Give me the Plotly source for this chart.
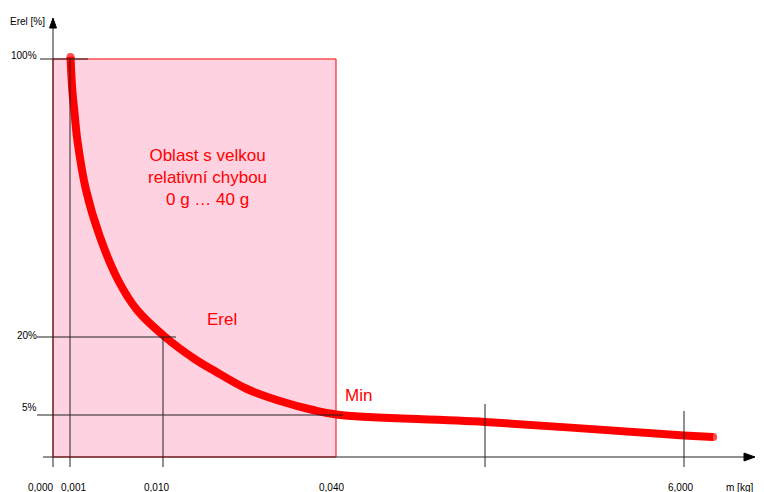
import numpy as np
import plotly.graph_objects as go

# ---- data ----
MASS_KG = [0.00105, 0.00122, 0.00141, 0.00171, 0.00255, 0.00390, 0.00565, 0.00748,
           0.01017, 0.01572, 0.01867, 0.02457, 0.03029, 0.03601, 0.1195,
           3.0, 6.0, 6.44]
EREL_PCT = [100.6, 91.1, 85.3, 76.7, 62.3, 48.8, 36.4, 27.8,
            20.3, 15.6, 13.65, 10.0, 7.69, 5.96, 5.0,
            4.17, 2.56, 2.38]
X_TICK_KG = [0.000, 0.001, 0.010, 0.040, 3.000, 6.000]
X_TICK_TEXT = ["0,000", "0,001", "0,010", "0,040", "", "6,000"]
Y_TICK_PCT = [5, 20, 100]
Y_TICK_TEXT = ["5%", "20%", "100%"]
REGION_KG = [0.000, 0.040]
REGION_PCT = [0, 100]
MIN_KG = 0.040

# ---- custom (piecewise) scales of this schematic chart ----
X_BREAK_KG = [0, 0.001, 0.010, 0.040, 3.0, 6.0, 9.0]
X_BREAK_POS = [0, 17, 110, 283, 432, 631, 830]
Y_BREAK_PCT = [0, 5, 20, 100, 120]
Y_BREAK_POS = [0, 42, 120, 398, 467.5]


def sx(v):
    return np.interp(v, X_BREAK_KG, X_BREAK_POS)


def sy(v):
    return np.interp(v, Y_BREAK_PCT, Y_BREAK_POS)


RED = "#FF0000"
INK = "#222222"
FONT = "Liberation Sans, Arial, Helvetica, sans-serif"

fig = go.Figure()

xs = sx(MASS_KG)
ys = sy(EREL_PCT)
sizes = [8] + [0] * (len(xs) - 2) + [8]
fig.add_trace(go.Scatter(
    x=xs, y=ys, mode="lines+markers",
    line=dict(color=RED, width=8, shape="spline", smoothing=1.0),
    marker=dict(color=RED, size=sizes, line=dict(width=0)),
    hoverinfo="skip", showlegend=False,
))

shapes = []
# region of large relative error
shapes.append(dict(type="rect", layer="below",
                   x0=sx(REGION_KG[0]), x1=sx(REGION_KG[1]),
                   y0=sy(REGION_PCT[0]), y1=sy(REGION_PCT[1]),
                   fillcolor="#FFD2E1", line=dict(color=RED, width=1)))


def seg(x0, y0, x1, y1, color=INK, w=1):
    shapes.append(dict(type="line", layer="above", x0=x0, y0=y0, x1=x1, y1=y1,
                       line=dict(color=color, width=w)))


# guide lines
seg(sx(0.001), -10, sx(0.001), sy(100))
seg(sx(0.010), -10, sx(0.010), sy(20))
seg(sx(3.0), -10, sx(3.0), 53)
seg(sx(6.0), -10, sx(6.0), 46)
seg(-13, sy(100), 35, sy(100))
seg(-16, sy(20), 123, sy(20))
seg(-16, sy(5), 290, sy(5))

# axes with arrows
seg(0, -10, 0, 430)
seg(-10, 0, 692, 0)
shapes.append(dict(type="path", layer="above", path="M -3.5,429 L 3.5,429 L 0,439 Z",
                   fillcolor="#000000", line=dict(color="#000000", width=1)))
shapes.append(dict(type="path", layer="above", path="M 691,4 L 691,-4 L 702,0 Z",
                   fillcolor="#000000", line=dict(color="#000000", width=1)))

annotations = []
X_LABEL_DX = [-13, 3, -7, -5, 0, -4]
for kg, txt, dx in zip(X_TICK_KG, X_TICK_TEXT, X_LABEL_DX):
    if txt:
        annotations.append(dict(x=sx(kg) + dx, y=-30, text=txt, showarrow=False,
                                xanchor="center", yanchor="middle",
                                font=dict(family=FONT, size=10, color="#000")))
Y_LABEL_DY = [8, 2, 4]
for p, txt, dy in zip(Y_TICK_PCT, Y_TICK_TEXT, Y_LABEL_DY):
    annotations.append(dict(x=-14, y=sy(p) + dy, text=txt, showarrow=False,
                            xanchor="right", yanchor="middle",
                            font=dict(family=FONT, size=10, color="#000")))

annotations.append(dict(x=-26, y=436, text="Erel [%]", showarrow=False,
                        xanchor="center", yanchor="middle",
                        font=dict(family=FONT, size=10, color="#000")))
annotations.append(dict(x=702, y=-30, text="m [kg]", showarrow=False,
                        xanchor="right", yanchor="middle",
                        font=dict(family=FONT, size=10, color="#000")))

annotations.append(dict(x=154, y=280, text="Oblast s velkou<br>relativní chybou<br>0 g … 40 g",
                        showarrow=False, xanchor="center", yanchor="middle", align="center",
                        font=dict(family=FONT, size=17, color=RED)))
annotations.append(dict(x=169, y=138, text="Erel", showarrow=False,
                        xanchor="center", yanchor="middle",
                        font=dict(family=FONT, size=17, color=RED)))
annotations.append(dict(x=sx(MIN_KG) + 7, y=62, text="Min", showarrow=False,
                        xanchor="left", yanchor="middle",
                        font=dict(family=FONT, size=17, color=RED)))

# The page body has an 8px margin, so the figure is 8px smaller than the window
fig.update_layout(
    width=756, height=484,
    margin=dict(l=0, r=0, t=0, b=0),
    paper_bgcolor="white", plot_bgcolor="white",
    xaxis=dict(range=[-45, 711], visible=False, fixedrange=True),
    yaxis=dict(range=[-35, 449], visible=False, fixedrange=True),
    shapes=shapes, annotations=annotations,
)

fig.write_html("out.html")
